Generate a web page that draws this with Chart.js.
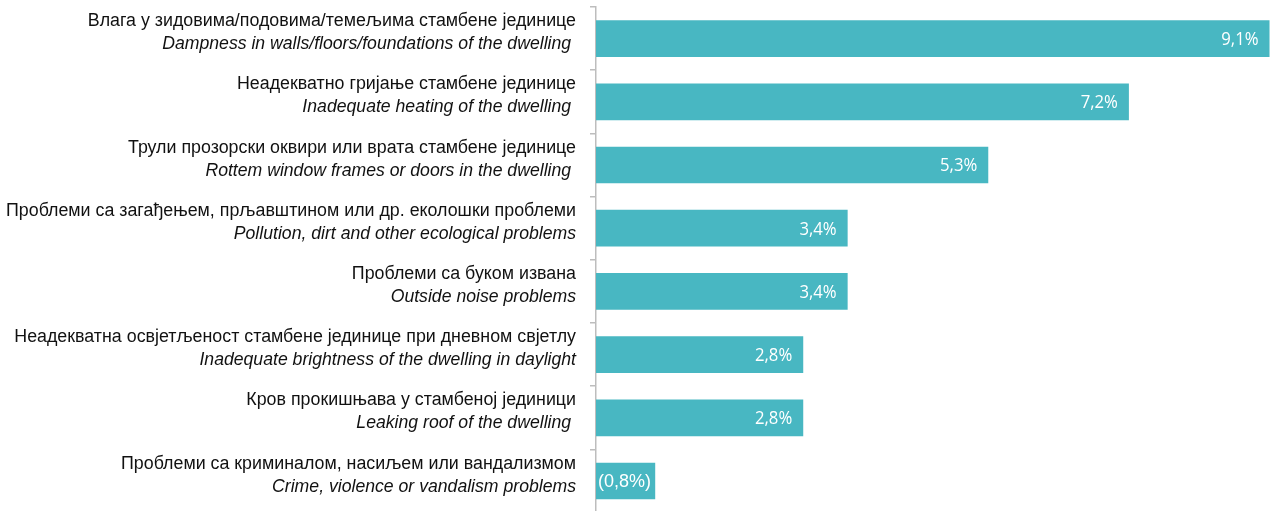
<!DOCTYPE html>
<html>
<head>
<meta charset="utf-8">
<script src="https://cdn.jsdelivr.net/npm/chart.js@4/dist/chart.umd.min.js"></script>
<style>
  html, body { margin: 0; padding: 0; background: #fff; overflow: hidden; }
  #wrap { position: relative; width: 1273px; height: 514px; }
</style>
</head>
<body>
<div id="wrap"><canvas id="chart"></canvas></div>
<script>
  // категорије (српски / енглески)
  var labelsSr = [
    'Влага у зидовима/подовима/темељима стамбене јединице',
    'Неадекватно гријање стамбене јединице',
    'Трули прозорски оквири или врата стамбене јединице',
    'Проблеми са загађењем, прљавштином или др. еколошки проблеми',
    'Проблеми са буком извана',
    'Неадекватна освјетљеност стамбене јединице при дневном свјетлу',
    'Кров прокишњава у стамбеној јединици',
    'Проблеми са криминалом, насиљем или вандализмом'
  ];
  var labelsEn = [
    'Dampness in walls/floors/foundations of the dwelling ',
    'Inadequate heating of the dwelling ',
    'Rottem window frames or doors in the dwelling ',
    'Pollution, dirt and other ecological problems',
    'Outside noise problems',
    'Inadequate brightness of the dwelling in daylight',
    'Leaking roof of the dwelling ',
    'Crime, violence or vandalism problems'
  ];
  var values = [9.1, 7.2, 5.3, 3.4, 3.4, 2.8, 2.8, 0.8];
  var valueLabels = ['9,1%', '7,2%', '5,3%', '3,4%', '3,4%', '2,8%', '2,8%', '(0,8%)'];

  var SANS = '"Liberation Sans", Arial, sans-serif';

  // текст сабијен по ширини
  function squeezeText(ctx, text, x, y, align, font, sx) {
    ctx.save();
    ctx.font = font;
    ctx.textAlign = align;
    ctx.translate(x, y);
    ctx.scale(sx, 1);
    ctx.fillText(text, 0, 0);
    ctx.restore();
  }

  // натписи категорија и вриједности
  var labelPlugin = {
    id: 'rowLabels',
    afterDraw: function (chart) {
      var ctx = chart.ctx;
      var y = chart.scales.y;
      var meta = chart.getDatasetMeta(0);
      ctx.save();
      ctx.textBaseline = 'alphabetic';
      ctx.fillStyle = '#111';
      for (var i = 0; i < labelsSr.length; i++) {
        var cy = y.getPixelForTick(i);
        squeezeText(ctx, labelsSr[i], 576, cy - 12.5, 'right', '18px ' + SANS, 0.99);
        squeezeText(ctx, labelsEn[i], 576, cy + 10.5, 'right', 'italic 18px ' + SANS, 0.98);
      }
      ctx.fillStyle = '#fff';
      ctx.textBaseline = 'middle';
      meta.data.forEach(function (bar, i) {
        var txt = valueLabels[i];
        if (bar.x - bar.base < 80) {
          squeezeText(ctx, txt, bar.base + 2, bar.y + 1, 'left', '18px ' + SANS, 1.0);
        } else {
          squeezeText(ctx, txt, bar.x - 11, bar.y + 1, 'right', '19px "Open Sans", sans-serif', 0.88);
        }
      });
      ctx.restore();
    }
  };

  new Chart(document.getElementById('chart'), {
    type: 'bar',
    data: {
      labels: labelsSr,
      datasets: [{
        data: values,
        backgroundColor: '#48B7C2',
        borderWidth: 0,
        categoryPercentage: 1,
        barPercentage: 0.58
      }]
    },
    options: {
      indexAxis: 'y',
      responsive: true,
      maintainAspectRatio: false,
      animation: false,
      layout: { padding: { top: 7, bottom: 1.4, left: 0, right: 2 } },
      plugins: { legend: { display: false }, tooltip: { enabled: false } },
      scales: {
        x: { display: false, min: 0, max: 9.12 },
        y: {
          afterFit: function (scale) { scale.width = 596; },
          ticks: { display: false },
          border: { display: true, color: '#BDBDBD', width: 1.5 },
          grid: {
            offset: true,
            drawOnChartArea: false,
            drawTicks: true,
            tickLength: 6,
            color: '#BDBDBD',
            lineWidth: 1.5
          }
        }
      }
    },
    plugins: [labelPlugin]
  });
</script>
</body>
</html>
